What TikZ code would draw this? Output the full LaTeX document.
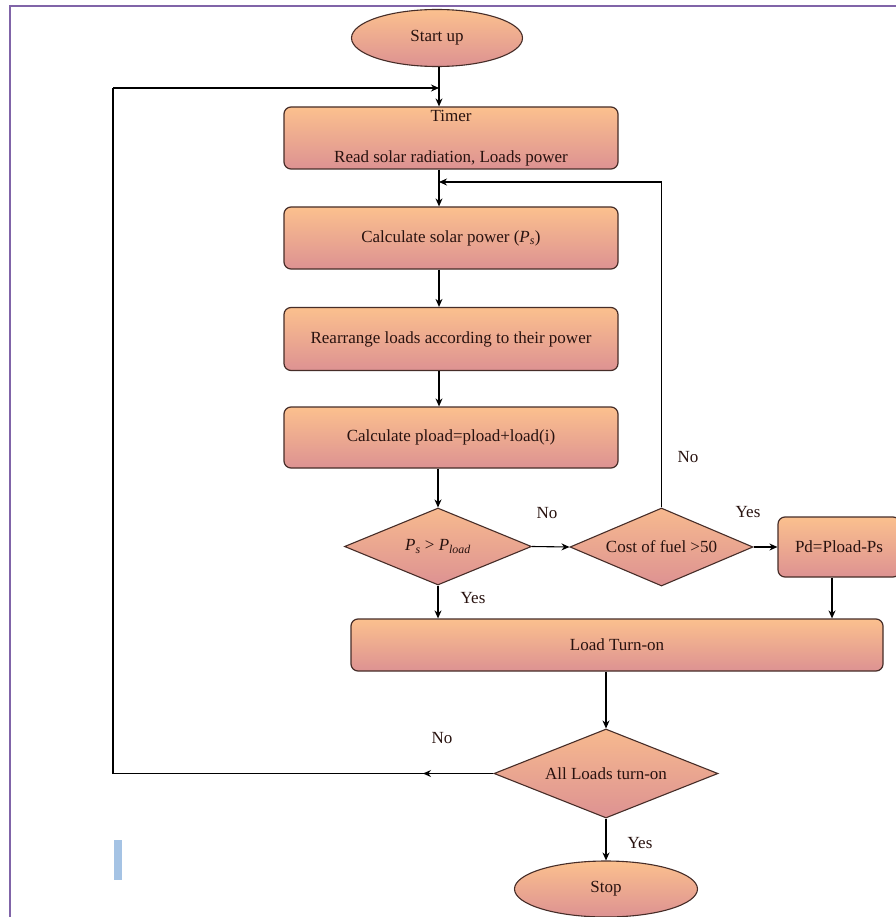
\documentclass[tikz,border=0pt]{standalone}
\usepackage{fontspec}
\setmainfont{Liberation Serif}
\usetikzlibrary{shapes.geometric,arrows.meta}
\definecolor{ftop}{RGB}{251,192,142}
\definecolor{fbot}{RGB}{221,146,146}
\definecolor{edgec}{RGB}{70,45,40}
\definecolor{txtc}{RGB}{40,18,15}
\definecolor{framec}{RGB}{128,100,168}
\definecolor{bluebar}{RGB}{165,195,228}
\begin{document}
\begin{tikzpicture}[x=1pt,y=-1pt,
  font=\fontsize{17}{20}\selectfont,
  box/.style={draw=edgec,line width=1.2pt,rounded corners=7pt,top color=ftop,bottom color=fbot,inner sep=0pt,text=txtc},
  dia/.style={diamond,draw=edgec,line width=1.1pt,top color=ftop!85!fbot,bottom color=fbot,inner sep=0pt,text=txtc},
  term/.style={ellipse,draw=edgec,line width=1.1pt,top color=ftop,bottom color=fbot,inner sep=0pt,text=txtc},
  arr/.style={line width=1.1pt,-{Stealth[length=8pt,width=7pt]}},
  ln/.style={line width=1.1pt},
  lbl/.style={text=txtc,inner sep=0pt}]
\useasboundingbox (0,0) rectangle (895,917);
\fill[white] (0,0) rectangle (895,917);
\draw[framec,line width=2.2pt] (10,920) -- (10,6) -- (897,6);
\fill[bluebar] (114,840) rectangle (122,880);

\coordinate (colx) at (439,0);
\coordinate (loopL) at (113,0);
\coordinate (jn) at (439,182);
\coordinate (topJ) at (439,88);
\coordinate (pdx) at (832,0);
\coordinate (midL) at (423,773.5);

\node[term,minimum width=171pt,minimum height=57pt] (start) at (437,38) {Start up};
\node[box,minimum width=334pt,minimum height=62pt,align=center] (timer) at (451,138) {Timer\\[21pt]Read solar radiation, Loads power};
\node[box,minimum width=334pt,minimum height=62pt] (solar) at (451,238) {Calculate solar power ({\itshape P}\textsubscript{\itshape s})};
\node[box,minimum width=334pt,minimum height=63pt] (rearr) at (451,339) {Rearrange loads according to their power};
\node[box,minimum width=334pt,minimum height=61pt] (pload) at (451,437.5) {Calculate pload=pload+load(i)};
\node[dia,minimum width=187pt,minimum height=77pt,aspect=2.4] (d1) at (438,546.5) {{\itshape P}\textsubscript{\itshape s} > {\itshape P}\textsubscript{\itshape load}};
\node[dia,minimum width=183pt,minimum height=78pt,aspect=2.4] (d2) at (661.5,547) {Cost of fuel >50};
\node[box,minimum width=122pt,minimum height=60pt] (pd) at (839,547) {Pd=Pload-Ps};
\node[box,minimum width=532pt,minimum height=52pt] (load) at (617,645) {Load Turn-on};
\node[dia,minimum width=224pt,minimum height=89pt,aspect=2.5] (d3) at (606,773.5) {All Loads turn-on};
\node[term,minimum width=183pt,minimum height=56pt] (stop) at (606,889) {Stop};

\draw[arr] (start.south -| colx) -- (timer.north -| colx);
\draw[arr] (timer.south -| colx) -- (solar.north -| colx);
\draw[arr] (d2.north) -- (d2.north |- jn) -- (jn);
\draw[arr] (solar.south -| colx) -- (rearr.north -| colx);
\draw[arr] (rearr.south -| colx) -- (pload.north -| colx);
\draw[arr] (pload.south -| d1.north) -- (d1.north);
\draw[arr] (d1.east) -- (d2.west);
\draw[arr] (d2.east) -- (pd.west);
\draw[arr] (d1.south) -- (load.north -| d1.south);
\draw[arr] (pd.south -| pdx) -- (load.north -| pdx);
\draw[arr] (load.south -| d3.north) -- (d3.north);
\draw[arr] (d3.south) -- (stop.north);
\draw[ln] (d3.west) -- (d3.west -| loopL) -- (loopL |- topJ);
\draw[arr] (d3.west) -- (midL);
\draw[arr] (loopL |- topJ) -- (topJ);

\node[lbl] (no1) at (547,513) {No};
\node[lbl] (yes1) at (748,512) {Yes};
\node[lbl] (no2) at (688,457) {No};
\node[lbl] (yes2) at (473,598) {Yes};
\node[lbl] (no3) at (442,738) {No};
\node[lbl] (yes3) at (640,843) {Yes};
\end{tikzpicture}
\end{document}
